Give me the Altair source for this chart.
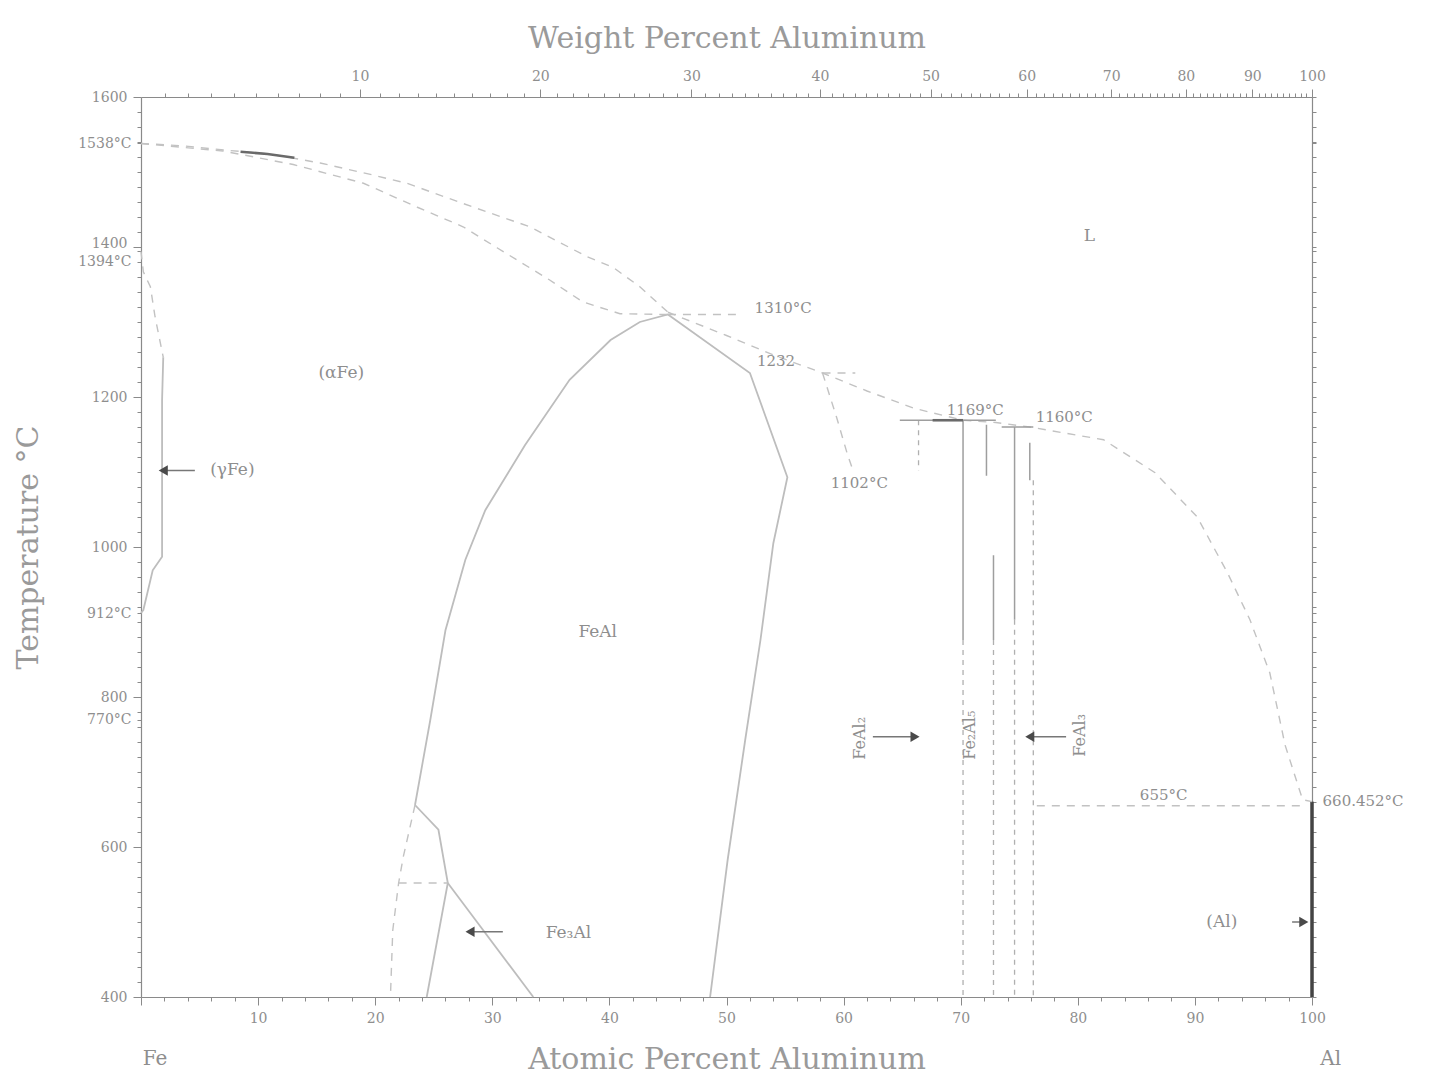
import altair as alt
import pandas as pd

# Atomic masses used to place the weight-percent scale on the top axis
M_AL = 26.98
M_FE = 55.845

FONT = "DejaVu Serif"
TEXT = "#8e8e8e"
LIGHT = "#c2c2c2"
MID = "#9e9e9e"
DARK = "#555555"

# ---------------- phase boundaries (atomic % Al, temperature in °C) ----------------
liq_fe_x = [0, 3.5, 7.3, 11.0, 15.3, 19.8, 22.7, 28.4, 33.2, 38.1, 40.3, 42.6, 45.0]
liq_fe_t = [1538, 1535, 1529, 1524, 1512, 1496, 1485, 1453, 1427, 1387, 1373, 1347, 1313]

sol_fe_x = [0, 7.0, 13.0, 19.0, 23.6, 27.5, 30.4, 34.9, 37.7, 40.9, 45.0]
sol_fe_t = [1538, 1528, 1510, 1485, 1453, 1427, 1399, 1356, 1327, 1311, 1310]

liq_al_x = [45.0, 50.0, 54.0, 58.2, 62.0, 66.0, 70.2, 73.0, 75.9, 82.2, 86.6, 90.2,
            92.8, 94.7, 96.4, 97.7, 99.2, 100.0]
liq_al_t = [1313, 1282, 1256, 1232, 1208, 1185, 1169, 1166, 1160, 1143, 1099, 1040,
            965, 903, 832, 736, 663, 660.452]

liq_dark_x = [8.5, 10.8, 13.1]
liq_dark_t = [1527, 1524, 1519]

gamma_up_x = [0, 0.2, 0.8, 1.2, 1.9]
gamma_up_t = [1394, 1367, 1347, 1307, 1253]
gamma_low_x = [1.9, 1.8, 1.8, 1.8, 1.0, 0.2, 0]
gamma_low_t = [1253, 1196, 1129, 987, 969, 916, 912]

feal_x = [23.4, 24.7, 26.0, 27.7, 29.4, 32.8, 36.6, 40.1, 42.6, 45.0,
          52.0, 55.2, 54.0, 52.9, 51.6, 50.1, 48.6]
feal_t = [656, 769, 889, 983, 1049, 1136, 1223, 1276, 1300, 1310,
          1232, 1093, 1005, 876, 743, 583, 400]

fe3al_a_x = [23.4, 25.4, 26.2, 24.4]
fe3al_a_t = [656, 623, 552, 400]
fe3al_b_x = [26.2, 33.5]
fe3al_b_t = [552, 400]
fe3al_c_x = [23.4, 22.4, 22.0, 21.5, 21.3]
fe3al_c_t = [656, 587, 552, 489, 400]
fe3al_d_x = [22.0, 26.2]
fe3al_d_t = [552, 552]

lead_1310_x = [45.0, 50.8]
lead_1310_t = [1310, 1310]
eps_top_x = [58.2, 61.0]
eps_top_t = [1232, 1232]
eps_side_x = [58.2, 59.4, 60.3, 60.8]
eps_side_t = [1232, 1173, 1125, 1102]
eut_655_x = [76.5, 99.2]
eut_655_t = [655, 655]

# intermetallic phase fields around 66-76 at.% Al
vs_x = [70.2, 72.2, 72.8, 74.6, 75.9]
vs_top = [1169, 1163, 989, 1160, 1139]
vs_bot = [876, 1095, 876, 903, 1089]

vd_x = [66.4, 70.2, 72.8, 74.6, 76.2]
vd_top = [1169, 876, 876, 903, 1089]
vd_bot = [1102, 400, 400, 400, 400]

plateau_x1 = [64.8, 73.5]
plateau_x2 = [73.0, 76.2]
plateau_t = [1169, 1160]

plateau_dark_x1 = [67.6]
plateau_dark_x2 = [70.2]
plateau_dark_t = [1169]

# pure aluminium solid solution edge
al_x = [100.0]
al_t1 = [400]
al_t2 = [660.452]

# arrows pointing from labels to narrow phase fields
arrow_tail = [4.6, 30.9, 62.5, 79.0, 98.3]
arrow_head = [1.9, 28.1, 66.1, 75.9, 99.3]
arrow_t = [1102, 487, 747, 747, 500]
arrow_dir = ["left", "left", "right", "left", "right"]

# labels
phase_text = ["(αFe)", "(γFe)", "FeAl", "Fe₃Al", "L", "(Al)"]
phase_x = [17.1, 7.8, 39.0, 36.5, 81.0, 92.3]
phase_t = [1232, 1103, 887, 485, 1415, 500]

temp_text = ["1310°C", "1232", "1102°C", "1169°C", "1160°C", "655°C", "660.452°C"]
temp_x = [52.4, 52.6, 58.9, 68.8, 76.4, 85.3, 100.9]
temp_t = [1319, 1248, 1085, 1183, 1173, 669, 661]

rot_text = ["FeAl₂", "Fe₂Al₅", "FeAl₃"]
rot_x = [61.4, 70.8, 80.2]
rot_t = [745, 749, 749]

end_text = ["Fe", "Al"]
end_x = [1.2, 101.6]
end_t = [318, 318]

# axis tick values
at_ticks = list(range(0, 101, 2))
temp_ticks = sorted(set(list(range(400, 1601, 20)) + [770, 912, 1394, 1538]))
wt_ticks = list(range(1, 101))


def wt_to_at(w):
    a = w / M_AL
    f = (100 - w) / M_FE
    return 100 * a / (a + f)


top_ticks = [wt_to_at(w) for w in wt_ticks]


def path(name, xs, ts):
    return pd.DataFrame({"curve": name, "x": xs, "t": ts, "i": list(range(len(xs)))})


xs = alt.Scale(domain=[0, 100], nice=False, zero=False)
ys = alt.Scale(domain=[400, 1600], nice=False, zero=False)

W = (f"round(100*datum.value*{M_AL}/(datum.value*{M_AL}+(100-datum.value)*{M_FE}))")

bottom_axis = alt.Axis(
    orient="bottom", values=at_ticks, format="d",
    labelExpr="datum.value % 10 === 0 && datum.value > 0 ? datum.label : ''",
    tickSize={"condition": {"test": "datum.value % 10 === 0", "value": 8}, "value": 4},
    labelPadding=6, labelOverlap=False, labelFlush=False,
    title="Atomic Percent Aluminum", titleY=62, titleBaseline="middle",
    titleFontSize=30,
)
left_axis = alt.Axis(
    orient="left", values=temp_ticks, format="d",
    labelExpr=("datum.value % 200 === 0 ? datum.label : "
               "(indexof([770, 912, 1394, 1538], datum.value) >= 0 ? datum.label + '°C' : '')"),
    tickSize={"condition": {"test": "datum.value % 200 === 0", "value": 8}, "value": 4},
    labelOffset={"condition": [{"test": "datum.value === 1394", "value": 10},
                               {"test": "datum.value === 1400", "value": -4}],
                 "value": 0},
    labelPadding=6, labelOverlap=False, labelFlush=False,
    title="Temperature °C", titleX=-113, titleY=450, titleAngle=270,
    titleBaseline="middle", titleAlign="center", titleFontSize=30,
)
top_axis = alt.Axis(
    orient="top", values=top_ticks,
    labelExpr=f"{W} % 10 === 0 ? {W} + '' : ''",
    tickSize={"condition": {"test": f"{W} % 10 === 0", "value": 8}, "value": 4},
    labelPadding=6, labelOverlap=False, labelFlush=False,
    title="Weight Percent Aluminum", titleY=-59, titleBaseline="middle",
    titleFontSize=30,
)
right_axis = alt.Axis(orient="right", values=temp_ticks, labels=False, tickSize=4, title=None)


def lines(df, color, width, dash=None, axes=False):
    kw = dict(color=color, strokeWidth=width)
    if dash:
        kw["strokeDash"] = dash
    return alt.Chart(df).mark_line(**kw).encode(
        x=alt.X("x:Q", scale=xs, axis=bottom_axis if axes else None),
        y=alt.Y("t:Q", scale=ys, axis=left_axis if axes else None),
        detail="curve:N",
        order="i:Q",
    )


solid_df = pd.concat([
    path("feal", feal_x, feal_t),
    path("fe3al_a", fe3al_a_x, fe3al_a_t),
    path("fe3al_b", fe3al_b_x, fe3al_b_t),
    path("gamma_low", gamma_low_x, gamma_low_t),
])
dashed_df = pd.concat([
    path("liq_fe", liq_fe_x, liq_fe_t),
    path("sol_fe", sol_fe_x, sol_fe_t),
    path("liq_al", liq_al_x, liq_al_t),
    path("gamma_up", gamma_up_x, gamma_up_t),
    path("fe3al_c", fe3al_c_x, fe3al_c_t),
    path("fe3al_d", fe3al_d_x, fe3al_d_t),
    path("lead_1310", lead_1310_x, lead_1310_t),
    path("eps_top", eps_top_x, eps_top_t),
    path("eps_side", eps_side_x, eps_side_t),
    path("eut_655", eut_655_x, eut_655_t),
])
dark_df = path("liq_dark", liq_dark_x, liq_dark_t)

solid_layer = lines(solid_df, "#bdbdbd", 1.8, axes=True)
dashed_layer = lines(dashed_df, LIGHT, 1.4, dash=[8, 7])
dark_layer = lines(dark_df, "#6a6a6a", 2.6)

vs_layer = alt.Chart(pd.DataFrame({"x": vs_x, "t": vs_top, "t2": vs_bot})).mark_rule(
    color=MID, strokeWidth=1.5).encode(
    x=alt.X("x:Q", scale=xs, axis=None), y=alt.Y("t:Q", scale=ys, axis=None), y2="t2:Q")
vd_layer = alt.Chart(pd.DataFrame({"x": vd_x, "t": vd_top, "t2": vd_bot})).mark_rule(
    color="#b0b0b0", strokeWidth=1.3, strokeDash=[5, 5]).encode(
    x=alt.X("x:Q", scale=xs, axis=None), y=alt.Y("t:Q", scale=ys, axis=None), y2="t2:Q")
plateau_layer = alt.Chart(pd.DataFrame({"x": plateau_x1, "x2": plateau_x2, "t": plateau_t})).mark_rule(
    color=MID, strokeWidth=1.5).encode(
    x=alt.X("x:Q", scale=xs, axis=None), x2="x2:Q", y=alt.Y("t:Q", scale=ys, axis=None))
plateau_dark_layer = alt.Chart(pd.DataFrame(
    {"x": plateau_dark_x1, "x2": plateau_dark_x2, "t": plateau_dark_t})).mark_rule(
    color="#6a6a6a", strokeWidth=2.6).encode(
    x=alt.X("x:Q", scale=xs, axis=None), x2="x2:Q", y=alt.Y("t:Q", scale=ys, axis=None))

# thick (Al) edge carries the top (weight %) and right axes
al_layer = alt.Chart(pd.DataFrame({"x": al_x, "t": al_t1, "t2": al_t2})).mark_rule(
    color="#444444", strokeWidth=3.5).encode(
    x=alt.X("x:Q", scale=xs, axis=top_axis),
    y=alt.Y("t:Q", scale=ys, axis=right_axis), y2="t2:Q")

arrow_df = pd.DataFrame({"x": arrow_tail, "x2": arrow_head, "t": arrow_t, "dir": arrow_dir})
shaft_layer = alt.Chart(arrow_df).mark_rule(color="#777777", strokeWidth=1.5).encode(
    x=alt.X("x:Q", scale=xs, axis=None), x2="x2:Q", y=alt.Y("t:Q", scale=ys, axis=None))
head_left = alt.Chart(arrow_df).transform_filter("datum.dir === 'left'").mark_point(
    shape="triangle-left", filled=True, size=110, color="#4a4a4a", opacity=1).encode(
    x=alt.X("x2:Q", scale=xs, axis=None), y=alt.Y("t:Q", scale=ys, axis=None))
head_right = alt.Chart(arrow_df).transform_filter("datum.dir === 'right'").mark_point(
    shape="triangle-right", filled=True, size=110, color="#4a4a4a", opacity=1).encode(
    x=alt.X("x2:Q", scale=xs, axis=None), y=alt.Y("t:Q", scale=ys, axis=None))

phase_layer = alt.Chart(pd.DataFrame({"x": phase_x, "t": phase_t, "label": phase_text})).mark_text(
    font=FONT, fontSize=17, color=TEXT, align="center", baseline="middle").encode(
    x=alt.X("x:Q", scale=xs, axis=None), y=alt.Y("t:Q", scale=ys, axis=None), text="label:N")
temp_layer = alt.Chart(pd.DataFrame({"x": temp_x, "t": temp_t, "label": temp_text})).mark_text(
    font=FONT, fontSize=15, color=TEXT, align="left", baseline="middle").encode(
    x=alt.X("x:Q", scale=xs, axis=None), y=alt.Y("t:Q", scale=ys, axis=None), text="label:N")
rot_layer = alt.Chart(pd.DataFrame({"x": rot_x, "t": rot_t, "label": rot_text})).mark_text(
    font=FONT, fontSize=16, color=TEXT, align="center", baseline="middle", angle=270).encode(
    x=alt.X("x:Q", scale=xs, axis=None), y=alt.Y("t:Q", scale=ys, axis=None), text="label:N")
end_layer = alt.Chart(pd.DataFrame({"x": end_x, "t": end_t, "label": end_text})).mark_text(
    font=FONT, fontSize=20, color=TEXT, align="center", baseline="middle").encode(
    x=alt.X("x:Q", scale=xs, axis=None), y=alt.Y("t:Q", scale=ys, axis=None), text="label:N")

chart = alt.layer(
    solid_layer, al_layer, dashed_layer, dark_layer, vs_layer, vd_layer,
    plateau_layer, plateau_dark_layer, shaft_layer, head_left, head_right,
    phase_layer, temp_layer, rot_layer, end_layer,
).resolve_axis(x="independent", y="independent").properties(
    width=1171, height=900,
    autosize=alt.AutoSizeParams(type="none"),
    padding={"left": 141, "top": 97, "right": 125, "bottom": 77},
    background="white",
).configure_view(stroke=None).configure_axis(
    labelFont=FONT, labelFontSize=14, labelColor=TEXT,
    titleFont=FONT, titleColor="#9a9a9a", titleFontWeight="normal",
    domainColor="#8a8a8a", tickColor="#8a8a8a", domainWidth=1.2, tickWidth=1,
    grid=False,
)

chart.save("out.html", embed_options={"renderer": "svg", "actions": False})
